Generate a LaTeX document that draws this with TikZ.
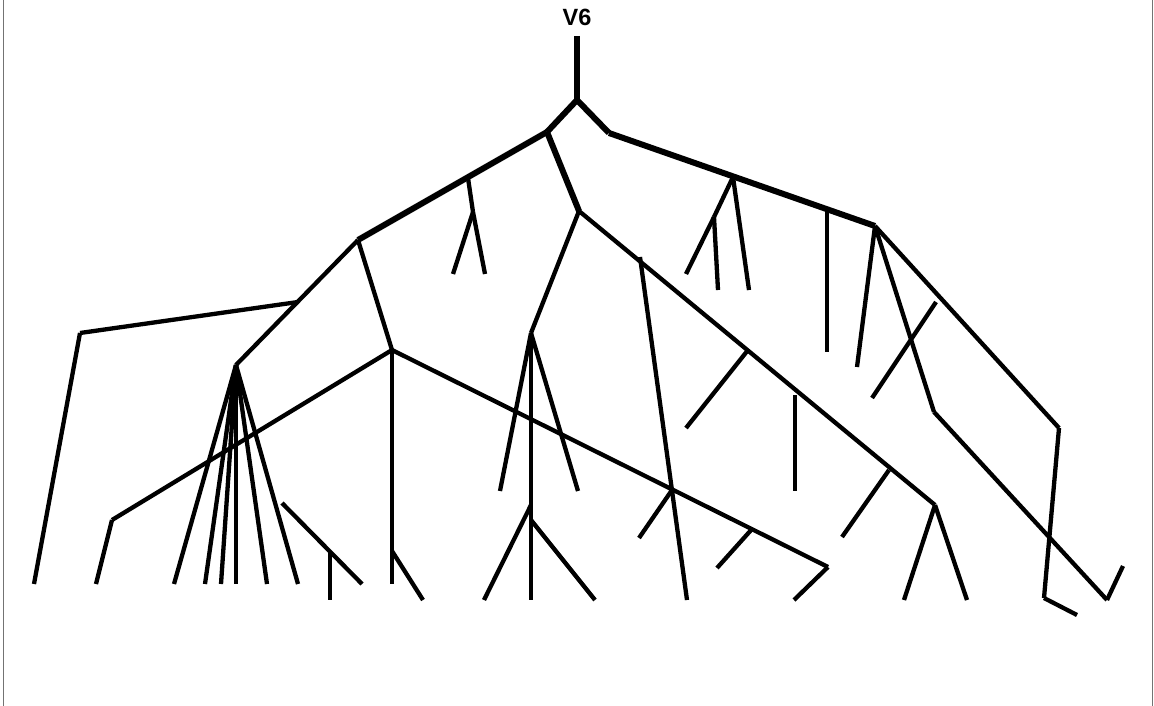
\documentclass[tikz,border=0pt]{standalone}
\usepackage{fontspec}
\setmainfont{Liberation Sans}
\usepackage{tikz}

\begin{document}
\begin{tikzpicture}[x=1pt, y=-1pt,
    twig/.style={line width=4.3pt},
    trunk/.style={line width=6pt},
    frameline/.style={line width=1pt, black!55}]
   \useasboundingbox (0,0) rectangle (1154,706);

   % Rahmen
   \coordinate (fl0) at (3,0);      \coordinate (fl1) at (3,706);
   \coordinate (fr0) at (1152,0);   \coordinate (fr1) at (1152,706);
   \draw[frameline] (fl0) -- (fl1) (fr0) -- (fr1);

   % Wurzel
   \node[font=\fontsize{23.5}{25}\selectfont\bfseries, inner sep=0pt] (v6) at (577,17.5) {V6};
   \coordinate (top) at (577,36);
   \coordinate (r) at (577,100);
   \coordinate (a) at (547,132);
   \coordinate (b) at (609,133);

   % linker Ast
   \coordinate (c) at (358,240);
   \coordinate (a1) at (468,178);
   \coordinate (a2) at (473,212);
   \coordinate (a2l) at (453,274);
   \coordinate (a2r) at (485,274);
   \coordinate (c1) at (298,302);
   \coordinate (p) at (80,333);
   \coordinate (pl) at (34,584);
   \coordinate (n) at (236,365);
   \foreach \i/\x in {1/174, 2/205, 3/221, 4/236, 5/267, 6/298}
      \coordinate (n\i) at (\x,584);
   \coordinate (q) at (392,350);
   \coordinate (s) at (112,520);
   \coordinate (sl) at (96,584);
   \coordinate (ql) at (392,584);
   \coordinate (t) at (392,551);
   \coordinate (tl) at (423,600);
   \coordinate (u) at (828,567);
   \coordinate (ul) at (794,600);
   \coordinate (u1) at (672,490);
   \coordinate (u1l) at (639,538);
   \coordinate (u2) at (752,529);
   \coordinate (u2l) at (717,568);
   \coordinate (w0) at (282,503);
   \coordinate (w1) at (362,584);
   \coordinate (w) at (330,551);
   \coordinate (wl) at (330,600);

   % mittlerer Ast
   \coordinate (m) at (579,211);
   \coordinate (m1) at (531,333);
   \coordinate (m1l) at (500,491);
   \coordinate (m1r) at (578,491);
   \coordinate (m1b) at (531,600);
   \coordinate (m2) at (531,505);
   \coordinate (m2l) at (484,600);
   \coordinate (m3) at (531,520);
   \coordinate (m3r) at (595,600);
   \coordinate (d) at (935,505);
   \coordinate (dl) at (904,600);
   \coordinate (dr) at (967,600);
   \coordinate (d1) at (640,257);
   \coordinate (d1l) at (687,600);
   \coordinate (d2) at (748,350);
   \coordinate (d2l) at (686,428);
   \coordinate (d3) at (889,470);
   \coordinate (d3l) at (842,537);
   \coordinate (v0) at (795,395);
   \coordinate (v1) at (795,491);

   % rechter Ast
   \coordinate (e) at (875,226);
   \coordinate (b1) at (733,177);
   \coordinate (b1l) at (749,290);
   \coordinate (b3) at (714,217);
   \coordinate (b3l) at (686,274);
   \coordinate (b3r) at (718,290);
   \coordinate (b2) at (827,210);
   \coordinate (b2l) at (827,352);
   \coordinate (el) at (857,367);
   \coordinate (f) at (934,412);
   \coordinate (g) at (1107,600);
   \coordinate (gl) at (1123,566);
   \coordinate (h) at (1059,428);
   \coordinate (k) at (1044,598);
   \coordinate (kl) at (1077,615);
   \coordinate (x0) at (936,302);
   \coordinate (x1) at (872,398);

   % Stamm
   \path[trunk]
    (top) edge (r)
    (r) edge (a)
    (r) edge (b)
    (a) edge (c)
    (a) edge (m)
    (b) edge (e);

   \path[twig]
    % links
    (a1) edge (a2)
    (a2) edge (a2l)
    (a2) edge (a2r)
    (c) edge (n)
    (c1) edge (p)
    (p) edge (pl)
    (n) edge (n1) (n) edge (n2) (n) edge (n3)
    (n) edge (n4) (n) edge (n5) (n) edge (n6)
    (c) edge (q)
    (q) edge (s)
    (s) edge (sl)
    (q) edge (ql)
    (t) edge (tl)
    (q) edge (u)
    (u) edge (ul)
    (u1) edge (u1l)
    (u2) edge (u2l)
    (w0) edge (w1)
    (w) edge (wl)
    % Mitte
    (m) edge (m1)
    (m1) edge (m1l)
    (m1) edge (m1r)
    (m1) edge (m1b)
    (m2) edge (m2l)
    (m3) edge (m3r)
    (m) edge (d)
    (d) edge (dl)
    (d) edge (dr)
    (d1) edge (d1l)
    (d2) edge (d2l)
    (d3) edge (d3l)
    (v0) edge (v1)
    % rechts
    (b1) edge (b1l)
    (b1) edge (b3)
    (b3) edge (b3l)
    (b3) edge (b3r)
    (b2) edge (b2l)
    (e) edge (el)
    (e) edge (f)
    (f) edge (g)
    (g) edge (gl)
    (e) edge (h)
    (h) edge (k)
    (k) edge (kl)
    (x0) edge (x1);
\end{tikzpicture}
\end{document}
